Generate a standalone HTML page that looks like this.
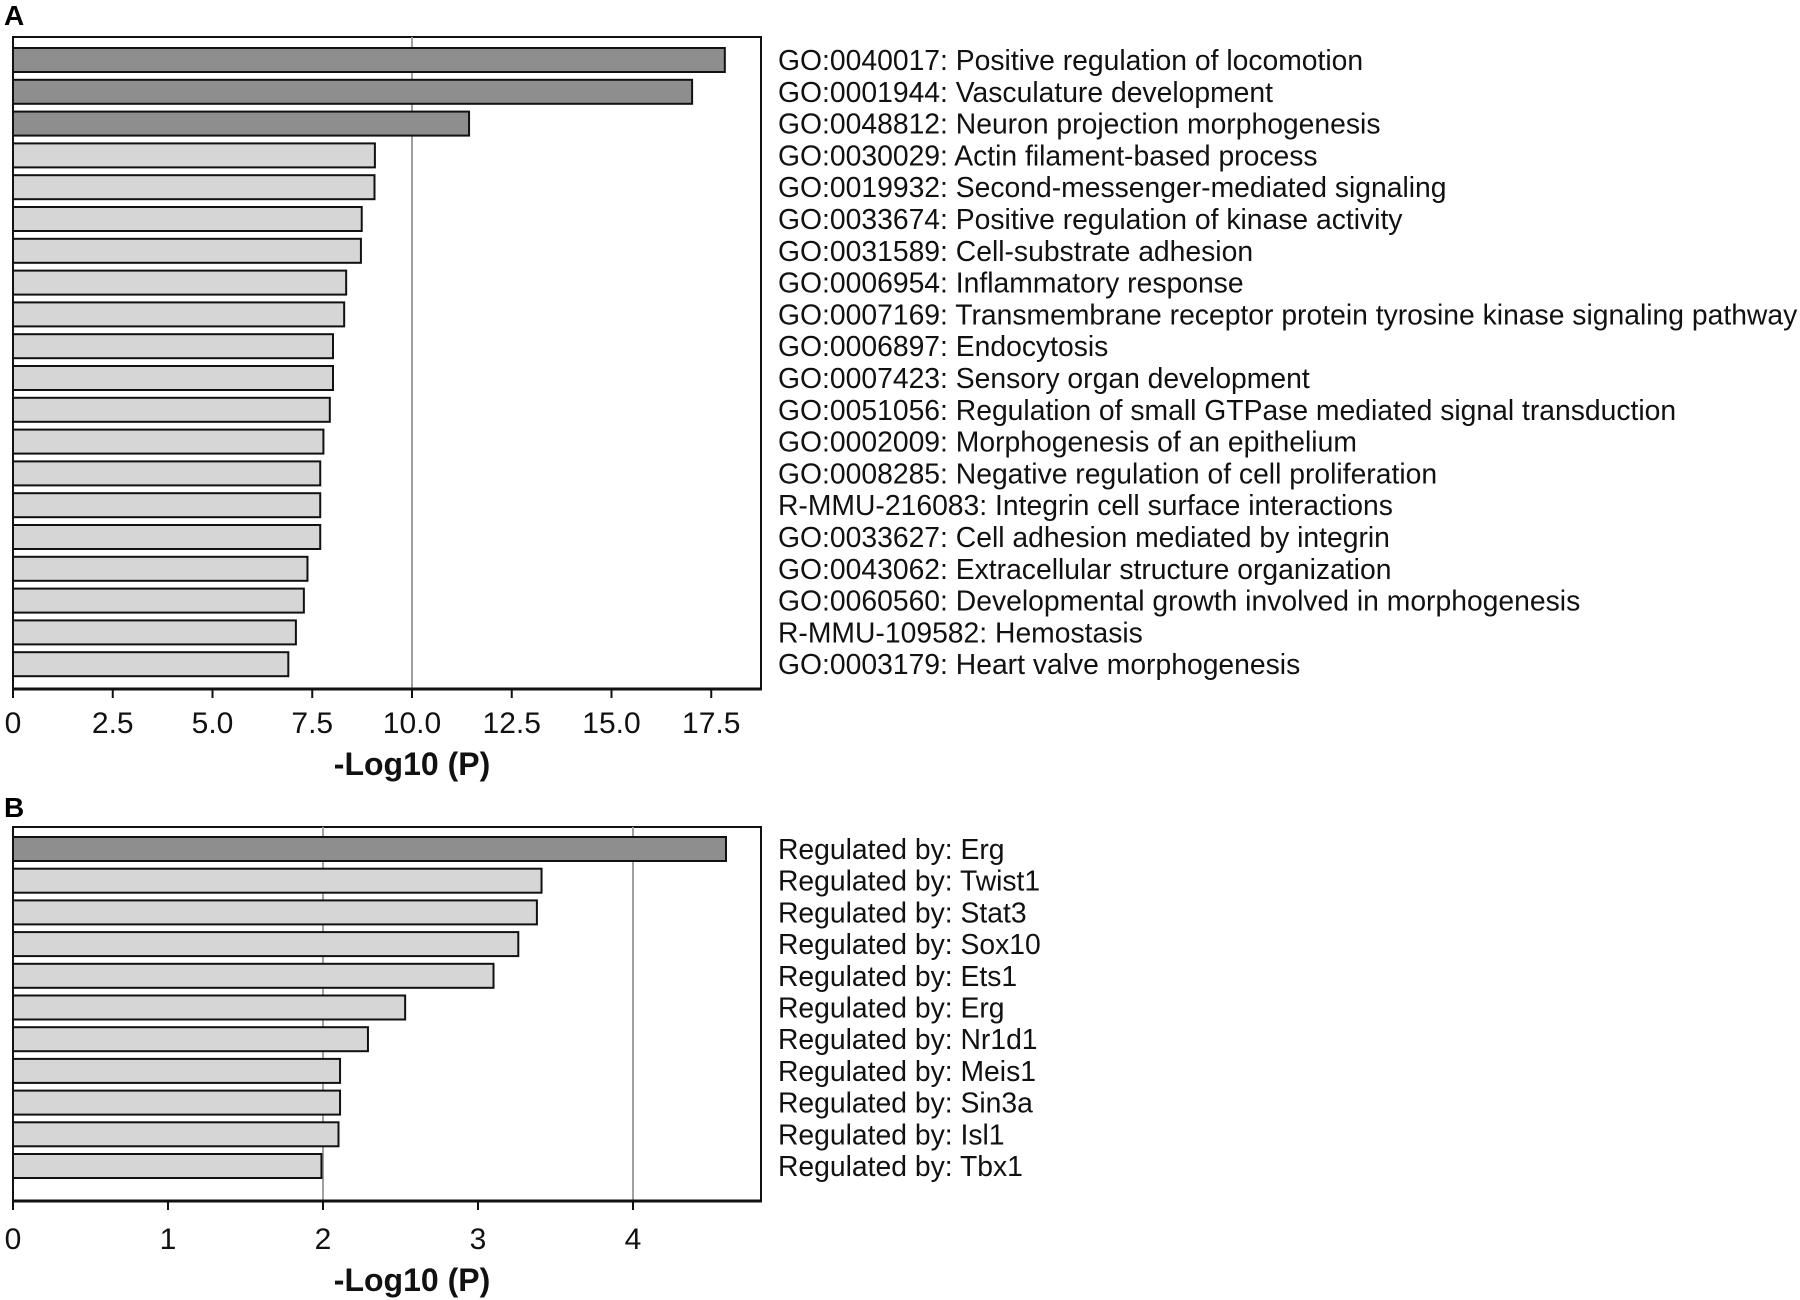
<!DOCTYPE html>
<html><head><meta charset="utf-8"><style>
html,body{margin:0;padding:0;background:#fff;overflow:hidden}
svg{display:block;font-family:"Liberation Sans",Arial,sans-serif}
</style></head><body>
<svg id="chart" width="1800" height="1300" viewBox="0 0 1800 1300"></svg>
<script>
const catsA=["GO:0040017: Positive regulation of locomotion","GO:0001944: Vasculature development","GO:0048812: Neuron projection morphogenesis","GO:0030029: Actin filament-based process","GO:0019932: Second-messenger-mediated signaling","GO:0033674: Positive regulation of kinase activity","GO:0031589: Cell-substrate adhesion","GO:0006954: Inflammatory response","GO:0007169: Transmembrane receptor protein tyrosine kinase signaling pathway","GO:0006897: Endocytosis","GO:0007423: Sensory organ development","GO:0051056: Regulation of small GTPase mediated signal transduction","GO:0002009: Morphogenesis of an epithelium","GO:0008285: Negative regulation of cell proliferation","R-MMU-216083: Integrin cell surface interactions","GO:0033627: Cell adhesion mediated by integrin","GO:0043062: Extracellular structure organization","GO:0060560: Developmental growth involved in morphogenesis","R-MMU-109582: Hemostasis","GO:0003179: Heart valve morphogenesis"];
const valsA=[17.84,17.02,11.43,9.07,9.06,8.74,8.72,8.35,8.30,8.02,8.02,7.94,7.78,7.70,7.70,7.70,7.38,7.29,7.09,6.90];
const darkA=[1,1,1,0,0,0,0,0,0,0,0,0,0,0,0,0,0,0,0,0];
const ticksA=["0","2.5","5.0","7.5","10.0","12.5","15.0","17.5"];
const tickValsA=[0,2.5,5,7.5,10,12.5,15,17.5];
const gridA=[10];
const catsB=["Regulated by: Erg","Regulated by: Twist1","Regulated by: Stat3","Regulated by: Sox10","Regulated by: Ets1","Regulated by: Erg","Regulated by: Nr1d1","Regulated by: Meis1","Regulated by: Sin3a","Regulated by: Isl1","Regulated by: Tbx1"];
const valsB=[4.60,3.41,3.38,3.26,3.10,2.53,2.29,2.11,2.11,2.10,1.99];
const darkB=[1,0,0,0,0,0,0,0,0,0,0];
const ticksB=["0","1","2","3","4"];
const tickValsB=[0,1,2,3,4];
const gridB=[2,4];

const NS="http://www.w3.org/2000/svg";
const svg=document.getElementById('chart');
function mk(tag,attrs,parent,text){const e=document.createElementNS(NS,tag);for(const k in attrs)e.setAttribute(k,attrs[k]);if(text!==undefined)e.textContent=text;(parent||svg).appendChild(e);return e;}

function panel(o){
  const g=mk('g',{});
  
  
  const x=v=>o.x0+v*o.unit;
  const L=mk('text',{x:4,y:o.letterY,'font-size':28,'font-weight':'bold'},g,o.letter);
  
  
  const fr=mk('rect',{x:o.x0,y:o.top,width:o.right-o.x0,height:o.bottom-o.top,fill:'#fff',stroke:'#111','stroke-width':2},g);
  
  
  o.grid.forEach(v=>{const l=mk('line',{x1:x(v),x2:x(v),y1:o.top,y2:o.bottom,stroke:'#a0a0a0','stroke-width':2},g);
    
    });
  o.vals.forEach((v,i)=>{
    const y=o.barTop+i*o.pitch;
    const r=mk('rect',{x:o.x0,y:y,width:x(v)-o.x0,height:o.barH,fill:o.dark[i]?'#8e8e8e':'#d6d6d6',stroke:'#111','stroke-width':2},g);
    
    
    const t=mk('text',{x:778,y:y+o.barH/2+10,'font-size':28.3,fill:'#111'},g,o.cats[i]);
    
    
  });
  const ax=mk('line',{x1:o.x0-1,x2:o.right+1,y1:o.bottom,y2:o.bottom,stroke:'#111','stroke-width':3},g);
  
  
  o.tickVals.forEach((v,i)=>{
    const tk=mk('line',{x1:x(v),x2:x(v),y1:o.bottom,y2:o.bottom+9,stroke:'#111','stroke-width':2},g);
    
    
    const tl=mk('text',{x:x(v),y:o.tickY,'font-size':30,'text-anchor':'middle',fill:'#111'},g,o.ticks[i]);
    
    
  });
  const at=mk('text',{x:412,y:o.titleY,'font-size':32,'font-weight':'bold','text-anchor':'middle',fill:'#111'},g,'-Log10 (P)');
  
  
}
panel({id:'a',letter:'A',letterY:25,x0:13,unit:39.9,right:761,top:37,bottom:689,barTop:48,barH:24,pitch:31.8,vals:valsA,cats:catsA,dark:darkA,ticks:ticksA,tickVals:tickValsA,grid:gridA,tickY:733,titleY:775});
panel({id:'b',letter:'B',letterY:817,x0:13,unit:155,right:761,top:827,bottom:1201,barTop:837,barH:24,pitch:31.7,vals:valsB,cats:catsB,dark:darkB,ticks:ticksB,tickVals:tickValsB,grid:gridB,tickY:1249,titleY:1291});
</script>
</body></html>
